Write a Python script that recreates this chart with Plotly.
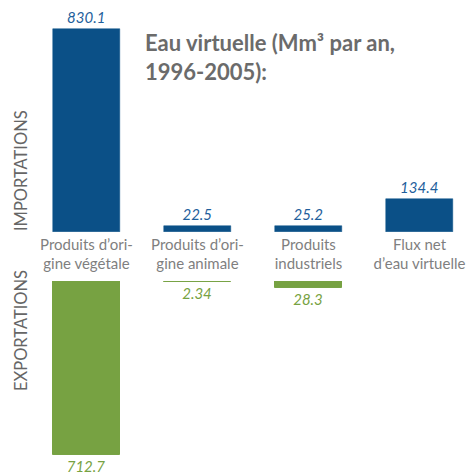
import plotly.graph_objects as go
from plotly.subplots import make_subplots

categories = [
    "Produits d’ori-<br>gine végétale",
    "Produits d’ori-<br>gine animale",
    "Produits<br>industriels",
    "Flux net<br>d’eau virtuelle",
]
imports = [830.1, 22.5, 25.2, 134.4]
export_categories = categories[:3]
exports = [712.7, 2.34, 28.3]

BLUE = "#0b5087"
GREEN = "#77a242"
FONT = "Lato"

fig = make_subplots(rows=2, cols=1, shared_xaxes=False, vertical_spacing=0.0)

# importations (upward)
fig.add_trace(
    go.Bar(
        x=categories,
        y=imports,
        marker=dict(color=BLUE, line=dict(color=BLUE, width=0.5)),
        width=0.604,
        text=[f"{v:g}" for v in imports],
        textposition="outside",
        textfont=dict(color="#1f5f9c", size=15, family=FONT, style="italic"),
        cliponaxis=False,
        showlegend=False,
    ),
    row=1,
    col=1,
)

# exportations (downward, reversed axis)
fig.add_trace(
    go.Bar(
        x=export_categories,
        y=exports,
        marker=dict(color=GREEN, line=dict(color=GREEN, width=1)),
        width=0.6,
        text=[f"{v:g}" for v in exports],
        textposition="outside",
        textfont=dict(color=GREEN, size=15, family=FONT, style="italic"),
        cliponaxis=False,
        showlegend=False,
    ),
    row=2,
    col=1,
)

xrange = [-0.779, 3.428]
fig.update_xaxes(
    range=xrange,
    categoryorder="array",
    categoryarray=categories,
    showgrid=False,
    zeroline=False,
    showline=False,
)
fig.update_xaxes(
    row=1,
    col=1,
    showticklabels=True,
    ticks="",
    ticklabelstandoff=2,
    tickfont=dict(family=FONT, size=15, color="#7f7f7f"),
)
fig.update_xaxes(row=2, col=1, showticklabels=False)

fig.update_yaxes(visible=False, showgrid=False, zeroline=False)
fig.update_yaxes(row=1, col=1, range=[0, 949], domain=[0.5085, 1.0])
fig.update_yaxes(row=2, col=1, range=[781, 0], domain=[0.0, 0.4047])

fig.add_annotation(
    text="Eau virtuelle (Mm³ par an,<br>1996-2005):",
    xref="paper",
    yref="paper",
    x=143 / 467,
    y=1 - 27 / 472,
    xanchor="left",
    yanchor="top",
    align="left",
    showarrow=False,
    font=dict(family=FONT, size=22, color="#6b6b6b", weight="bold"),
)
for label, ypix in [("IMPORTATIONS", 171), ("EXPORTATIONS", 331)]:
    fig.add_annotation(
        text=label,
        xref="paper",
        yref="paper",
        x=21 / 467,
        y=1 - ypix / 472,
        xanchor="center",
        yanchor="middle",
        textangle=-90,
        showarrow=False,
        font=dict(family=FONT, size=16.5, color="#666666"),
    )

fig.update_layout(
    width=467,
    height=472,
    margin=dict(l=0, r=0, t=0, b=0),
    plot_bgcolor="white",
    paper_bgcolor="white",
    bargap=0,
)

fig.write_html(
    "out.html",
    config={"displayModeBar": False},
    post_script="document.body.style.margin='0';",
)
